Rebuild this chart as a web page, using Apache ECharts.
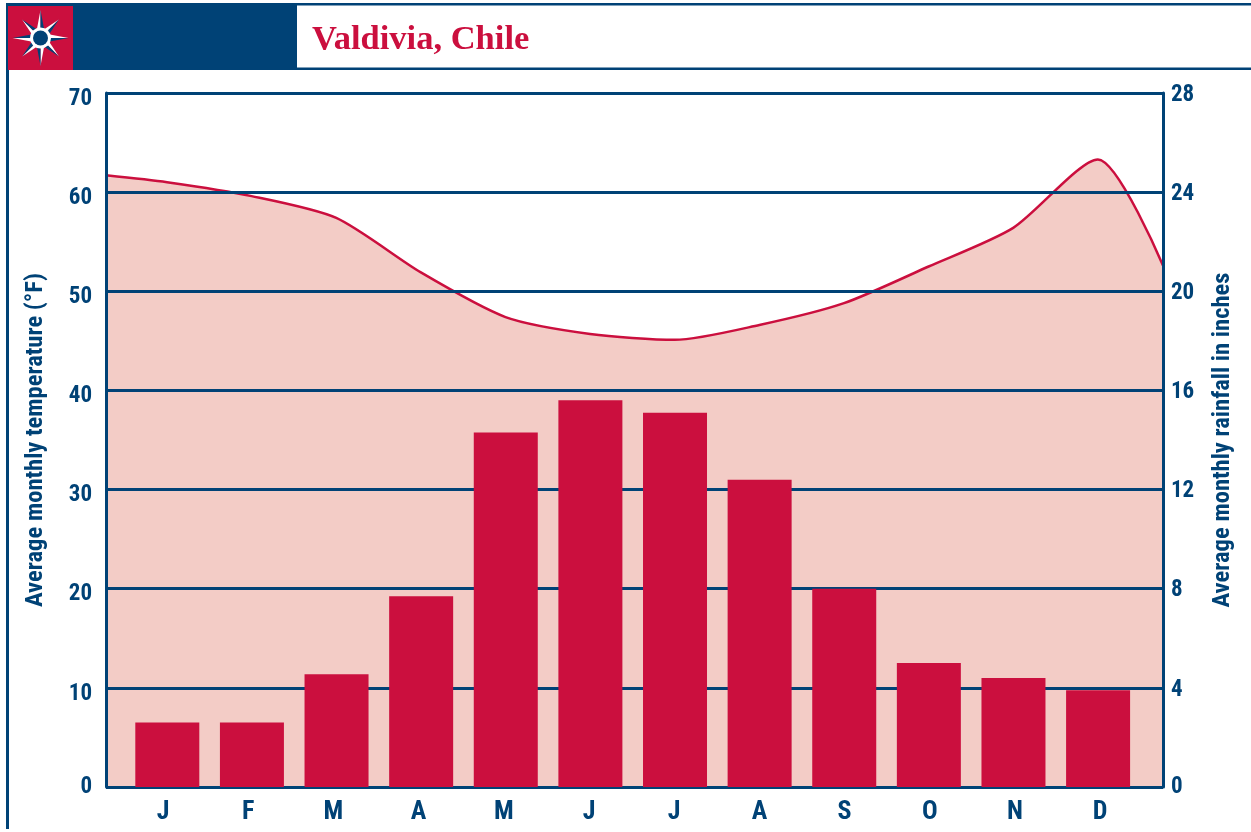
<!DOCTYPE html>
<html><head><meta charset="utf-8">
<style>html,body{margin:0;padding:0;background:#fff}#c{width:1251px;height:832px}</style>
<script src="https://cdn.jsdelivr.net/npm/echarts@6/dist/echarts.min.js"></script>
</head><body><div id="c"></div>
<script>
const months = ['J','F','M','A','M','J','J','A','S','O','N','D'];
const rainfall = [2.6,2.6,4.55,7.7,14.3,15.6,15.1,12.4,8,5,4.4,3.9];
const tempPositions = [0.279,1,2,3,4,5,6,7,8,9,10,11,12,12.77];
const tempValues = [61.7,61,59.6,57.4,51.9,47.4,45.7,45.1,46.6,48.8,52.5,56.4,63.3,52.6];
const title = 'Valdivia, Chile';
const leftName = 'Average monthly temperature (°F)';
const rightName = 'Average monthly rainfall in inches';

const NAVY='#004276', RED='#cb0f3e', PINK='#f3ccc6', FONT='"Liberation Sans Narrow","Roboto Condensed","Liberation Sans",sans-serif';
const tempPts = tempPositions.map((x,i)=>[x,tempValues[i]]);
const tickRich=(pad)=>({padding:pad,fontFamily:FONT,fontWeight:'bold',fontSize:23,color:NAVY});

function starShapes(cx,cy){
  const out=[];
  for(let i=0;i<8;i++){
    const a=i*Math.PI/4-Math.PI/2, R=i%2?26:28, w=4.5;
    const p=[cx+R*Math.cos(a),cy+R*Math.sin(a)];
    const l=[cx+w*Math.cos(a-Math.PI/2)+4*Math.cos(a),cy+w*Math.sin(a-Math.PI/2)+4*Math.sin(a)];
    const r=[cx+w*Math.cos(a+Math.PI/2)+4*Math.cos(a),cy+w*Math.sin(a+Math.PI/2)+4*Math.sin(a)];
    out.push({type:'polygon',z:11,shape:{points:[p,l,[cx,cy]]},style:{fill:'#fff'}});
    out.push({type:'polygon',z:11,shape:{points:[p,r,[cx,cy]]},style:{fill:NAVY}});
  }
  out.push({type:'circle',z:12,shape:{cx,cy,r:10.5},style:{fill:'#fff'}});
  out.push({type:'circle',z:13,shape:{cx,cy,r:7.5},style:{fill:NAVY}});
  return out;
}

const chart=echarts.init(document.getElementById('c'),null,{renderer:'canvas'});
chart.setOption({
  animation:false,
  graphic:[
    {type:'rect',z:10,shape:{x:6,y:3,width:1245,height:2.5},style:{fill:NAVY}},
    {type:'rect',z:10,shape:{x:6,y:3,width:3,height:826},style:{fill:NAVY}},
    {type:'rect',z:10,shape:{x:6,y:4,width:291,height:66},style:{fill:NAVY}},
    {type:'rect',z:10,shape:{x:297,y:67.5,width:954,height:2.5},style:{fill:NAVY}},
    {type:'rect',z:10,shape:{x:8,y:6,width:65,height:64},style:{fill:RED}},
    ...starShapes(40.5,38),
    {type:'text',z:10,x:312,y:23,style:{text:title,fill:RED,font:'bold 34.5px "Liberation Serif",serif'}}
  ],
  grid:[
    {left:106,top:93,width:1057,height:694},
    {left:125,top:93,width:1015.4,height:694},
    {left:120.4,top:93,width:1022.4,height:694}
  ],
  xAxis:[
    {type:'value',gridIndex:0,min:0.279,max:12.77,axisLabel:{show:false},axisTick:{show:false},axisLine:{show:false},splitLine:{show:false}},
    {type:'category',gridIndex:1,data:months,axisTick:{show:false},axisLine:{show:false},axisLabel:{show:false}},
    {type:'category',gridIndex:2,data:months,axisTick:{show:false},axisLine:{show:false},
      axisLabel:{color:NAVY,fontFamily:FONT,fontWeight:'bold',fontSize:26,margin:12,interval:0}}
  ],
  yAxis:[
    {type:'value',gridIndex:0,min:0,max:70,interval:10,position:'left',z:3,
      name:leftName,nameLocation:'middle',nameGap:58,nameRotate:90,
      nameTextStyle:{color:NAVY,fontFamily:FONT,fontWeight:'bold',fontSize:24.6},
      axisLine:{show:true,onZero:false,lineStyle:{color:NAVY,width:3}},axisTick:{show:false},
      axisLabel:{margin:14,
        formatter:v=>v===0?'{z|0}':'{n|'+v+'}',
        rich:{z:tickRich([0,0,0,0]),n:tickRich([12,0,0,0])}},
      splitLine:{show:true,lineStyle:{color:NAVY,width:3}}},
    {type:'value',gridIndex:0,min:0,max:28,interval:4,position:'right',z:3,
      name:rightName,nameLocation:'middle',nameGap:47,nameRotate:90,
      nameTextStyle:{color:NAVY,fontFamily:FONT,fontWeight:'bold',fontSize:24.6},
      axisLine:{show:true,onZero:false,lineStyle:{color:NAVY,width:3}},axisTick:{show:false},
      axisLabel:{margin:8,
        formatter:v=>v===0?'{z|0}':'{n|'+v+'}',
        rich:{z:tickRich([0,0,0,0]),n:tickRich([4,0,0,0])}},
      splitLine:{show:false}},
    {type:'value',gridIndex:1,min:0,max:28,interval:4,show:false,splitLine:{show:false}},
    {type:'value',gridIndex:2,min:0,max:28,interval:4,show:false,splitLine:{show:false}}
  ],
  series:[
    {type:'line',xAxisIndex:0,yAxisIndex:0,data:tempPts,smooth:0.25,symbol:'none',z:1,
      lineStyle:{color:RED,width:2.5},areaStyle:{color:PINK,opacity:1}},
    {type:'bar',xAxisIndex:1,yAxisIndex:2,data:rainfall,barWidth:64,z:5,itemStyle:{color:RED}}
  ]
});
</script></body></html>
